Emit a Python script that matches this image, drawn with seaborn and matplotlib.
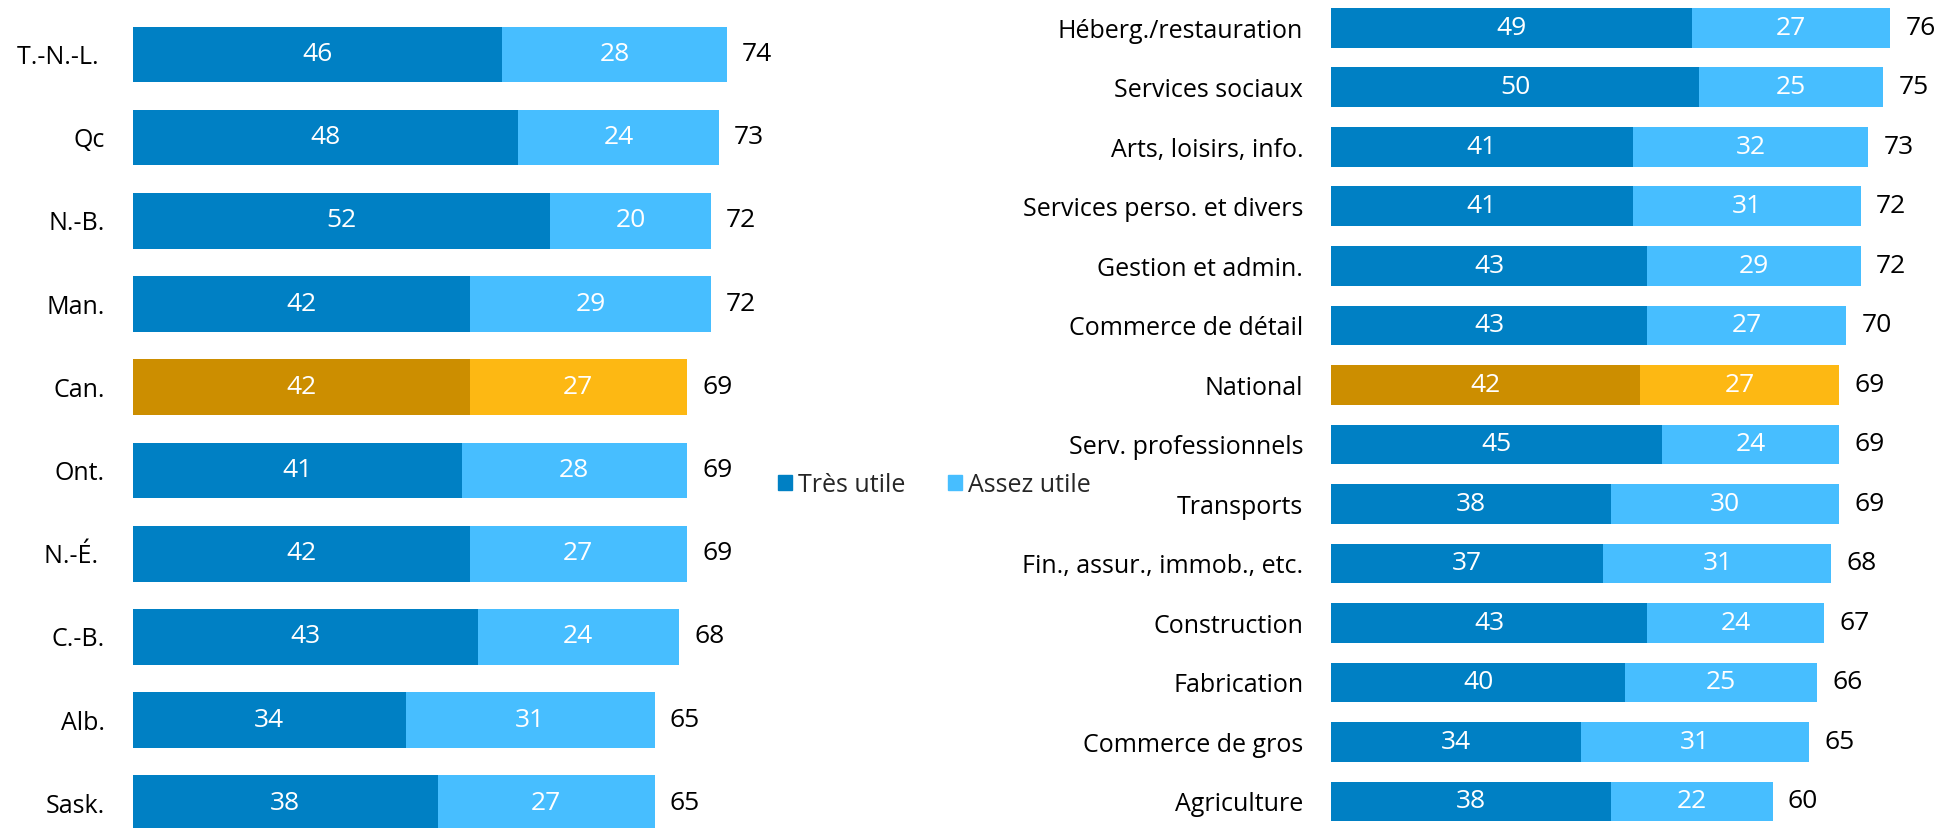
import matplotlib
matplotlib.use("Agg")
import matplotlib.pyplot as plt
import seaborn as sns
import pandas as pd
from matplotlib.patches import Patch

# --- Data ---
prov_labels = ["T.-N.-L. ", "Qc", "N.-B.", "Man.", "Can.", "Ont.", "N.-É. ", "C.-B.", "Alb.", "Sask."]
prov_tres = [46, 48, 52, 42, 42, 41, 42, 43, 34, 38]
prov_assez = [28, 24, 20, 29, 27, 28, 27, 24, 31, 27]
prov_total = [74, 73, 72, 72, 69, 69, 69, 68, 65, 65]

sect_labels = ["Héberg./restauration", "Services sociaux", "Arts, loisirs, info.",
               "Services perso. et divers", "Gestion et admin.", "Commerce de détail",
               "National", "Serv. professionnels", "Transports",
               "Fin., assur., immob., etc.", "Construction", "Fabrication",
               "Commerce de gros", "Agriculture"]
sect_tres = [49, 50, 41, 41, 43, 43, 42, 45, 38, 37, 43, 40, 34, 38]
sect_assez = [27, 25, 32, 31, 29, 27, 27, 24, 30, 31, 24, 25, 31, 22]
sect_total = [76, 75, 73, 72, 72, 70, 69, 69, 69, 68, 67, 66, 65, 60]

highlight = {"Can.", "National"}

# --- Style ---
DARK_BLUE = "#0080C4"
LIGHT_BLUE = "#47BEFF"
DARK_GOLD = "#CC8E00"
LIGHT_GOLD = "#FDB813"
FONT = "Open Sans"
FS = 18       # category labels / legend
FS_NUM = 19   # value labels

W, H = 1936, 828
sns.set_theme(style="white")
plt.rcParams["font.family"] = [FONT, "DejaVu Sans"]

fig = plt.figure(figsize=(W / 100, H / 100 + 0.001), dpi=100)


def draw_panel(ax, labels, tres, assez, total, ylim):
    df = pd.DataFrame({"cat": labels, "tres": tres, "assez": assez, "total": total})
    light = {c: (LIGHT_GOLD if c in highlight else LIGHT_BLUE) for c in labels}
    dark = {c: (DARK_GOLD if c in highlight else DARK_BLUE) for c in labels}
    # light bar to the total, dark bar on top of it
    sns.barplot(data=df, x="total", y="cat", hue="cat", palette=light, order=labels,
                saturation=1, width=0.67, legend=False, ax=ax, linewidth=0)
    sns.barplot(data=df, x="tres", y="cat", hue="cat", palette=dark, order=labels,
                saturation=1, width=0.67, legend=False, ax=ax, linewidth=0)
    for i, row in df.iterrows():
        ax.text(row["tres"] / 2, i, f"{row['tres']}", color="white",
                ha="center", va="center", fontsize=FS_NUM)
        ax.text((row["tres"] + row["total"]) / 2, i, f"{row['assez']}", color="white",
                ha="center", va="center", fontsize=FS_NUM)
        ax.annotate(f"{row['total']}", (row["total"], i), xytext=(11, 0),
                    textcoords="offset points", ha="left", va="center",
                    fontsize=FS_NUM, color="black", annotation_clip=False)
    ax.set_xlim(0, 80)
    ax.set_ylim(*ylim)
    ax.set_xlabel("")
    ax.set_ylabel("")
    ax.set_xticks([])
    ax.tick_params(axis="y", length=0, pad=20, labelsize=FS, labelcolor="black")
    sns.despine(ax=ax, left=True, bottom=True)


# left panel: provinces
x0, px = 132.7, 8.03
ax1 = fig.add_axes([x0 / W, 0, px * 80 / W, 1])
draw_panel(ax1, prov_labels, prov_tres, prov_assez, prov_total,
           ((828 - 54.5) / 83.2, -54.5 / 83.2))

# right panel: sectors
x1, px2 = 1331, 7.36
ax2 = fig.add_axes([x1 / W, 0, px2 * 80 / W, 1])
draw_panel(ax2, sect_labels, sect_tres, sect_assez, sect_total,
           ((828 - 28) / 59.5, -28 / 59.5))

# legend
handles = [Patch(color=DARK_BLUE, label="Très utile"),
           Patch(color=LIGHT_BLUE, label="Assez utile")]
fig.legend(handles=handles, loc="center left", bbox_to_anchor=(778 / W, 1 - 485 / H),
           ncol=2, frameon=False, fontsize=FS, handlelength=0.56, handleheight=0.56,
           handletextpad=0.25, columnspacing=1.7, borderpad=0, borderaxespad=0)

fig.savefig("out.png", dpi=100)
